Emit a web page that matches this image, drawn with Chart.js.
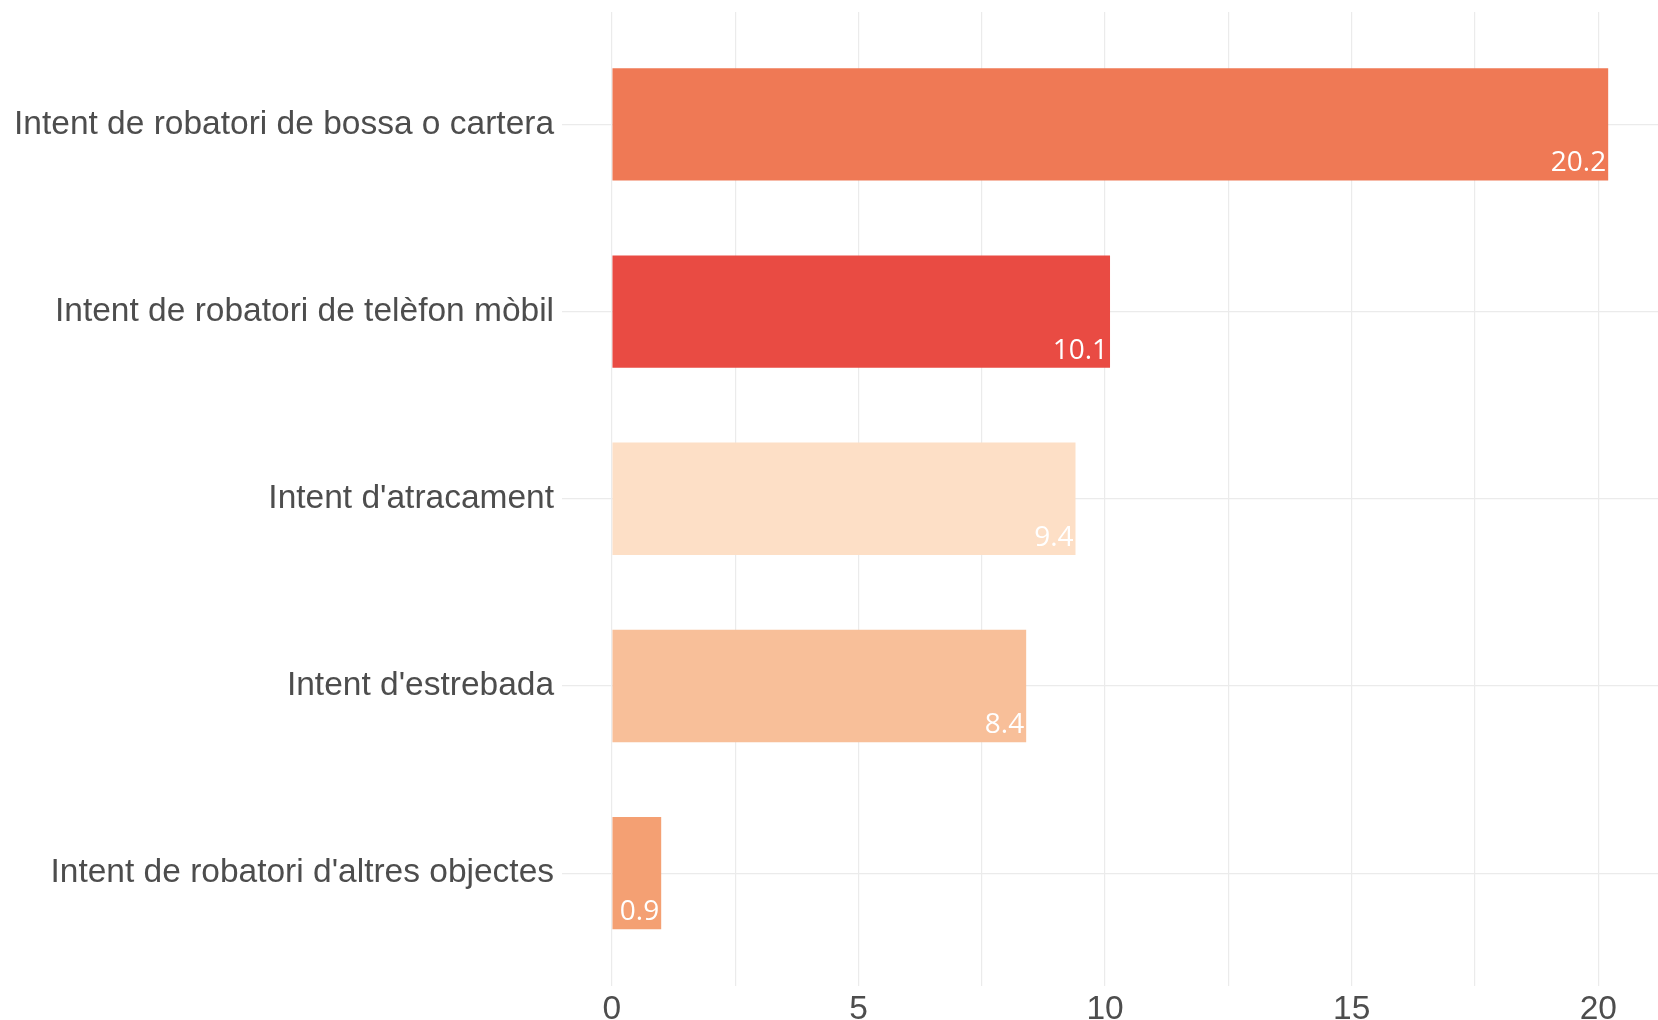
<!DOCTYPE html>
<html lang="ca">
<head>
<meta charset="UTF-8">
<title>Intents de robatori</title>
<script src="https://cdn.jsdelivr.net/npm/chart.js@4/dist/chart.umd.min.js"></script>
<style>
  html, body { margin: 0; padding: 0; background: #fff; }
  #wrap { width: 1658px; height: 1020px; }
</style>
</head>
<body>
<div id="wrap"><canvas id="myChart"></canvas></div>
<script>
const categories = [
  "Intent de robatori de bossa o cartera",
  "Intent de robatori de telèfon mòbil",
  "Intent d'atracament",
  "Intent d'estrebada",
  "Intent de robatori d'altres objectes"
];
const values = [20.2, 10.1, 9.4, 8.4, 1.0];
const valueText = ["20.2", "10.1", "9.4", "8.4", "0.9"];
const barColors = ["#EF7955", "#E94B43", "#FDDFC6", "#F8BF99", "#F4A073"];
const gridValues = [0, 2.5, 5, 7.5, 10, 12.5, 15, 17.5, 20];
const tickLabels = [0, 5, 10, 15, 20];

// value labels, white, right aligned at bar end near the bottom
const valueLabels = {
  id: 'valueLabels',
  afterDatasetsDraw(chart) {
    const ctx = chart.ctx;
    const meta = chart.getDatasetMeta(0);
    ctx.save();
    ctx.fillStyle = '#ffffff';
    ctx.font = '28px "Open Sans", sans-serif';
    ctx.textAlign = 'right';
    ctx.textBaseline = 'alphabetic';
    meta.data.forEach((bar, i) => {
      ctx.fillText(valueText[i], bar.x - 2, bar.y + bar.height / 2 - 9);
    });
    ctx.restore();
  }
};

const ctx = document.getElementById('myChart').getContext('2d');
new Chart(ctx, {
  type: 'bar',
  data: {
    datasets: [{
      data: values.map((v, i) => ({ x: v, y: i })),
      backgroundColor: barColors,
      borderWidth: 0,
      barPercentage: 0.6,
      categoryPercentage: 1
    }]
  },
  options: {
    indexAxis: 'y',
    responsive: true,
    maintainAspectRatio: false,
    animation: false,
    layout: { padding: { left: 6, right: 0, top: 12, bottom: -15 } },
    plugins: { legend: { display: false }, tooltip: { enabled: false } },
    scales: {
      x: {
        type: 'linear',
        min: -1.01,
        max: 21.21,
        afterBuildTicks: scale => { scale.ticks = gridValues.map(v => ({ value: v })); },
        grid: { color: '#ebebeb', lineWidth: 1.2, drawTicks: false },
        border: { display: false },
        ticks: {
          padding: 8,
          color: '#4d4d4d',
          font: { family: '"Liberation Sans", Arial, sans-serif', size: 33.5, lineHeight: 1 },
          callback: v => tickLabels.includes(v) ? String(v) : ''
        }
      },
      y: {
        type: 'linear',
        offset: false,
        reverse: true,
        min: -0.6,
        max: 4.6,
        afterBuildTicks: scale => { scale.ticks = categories.map((c, i) => ({ value: i })); },
        afterFit: scale => { scale.paddingTop = 0; scale.paddingBottom = 0; },
        grid: { color: '#ebebeb', lineWidth: 1.2, drawTicks: false, offset: false },
        border: { display: false },
        ticks: {
          padding: 8,
          color: '#4d4d4d',
          font: { family: '"Liberation Sans", Arial, sans-serif', size: 33.5 },
          callback: v => categories[v]
        }
      }
    }
  },
  plugins: [valueLabels]
});
</script>
</body>
</html>
